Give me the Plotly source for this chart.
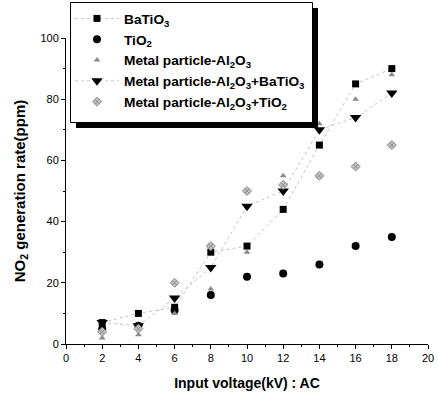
import plotly.graph_objects as go

voltage = [2, 4, 6, 8, 10, 12, 14, 16, 18]
batio3 = [7, 10, 12, 30, 32, 44, 65, 85, 90]
tio2 = [5, 6, 11, 16, 22, 23, 26, 32, 35]
metal_al2o3 = [2, 3, 10, 18, 30, 55, 72, 80, 88]
metal_al2o3_batio3 = [7, 6, 15, 25, 45, 50, 70, 74, 82]
metal_al2o3_tio2 = [4, 5, 20, 32, 50, 52, 55, 58, 65]

x_ticks = [0, 2, 4, 6, 8, 10, 12, 14, 16, 18, 20]
y_ticks = [0, 20, 40, 60, 80, 100]

W, H = 438, 400
L, R, T, B = 66, 10, 38, 56
pw, ph = W - L - R, H - T - B

def px2paper(px, py):
    return (px - L) / pw, (H - B - py) / ph

fig = go.Figure()
fig.add_trace(go.Scatter(x=voltage, y=batio3, name="BaTiO<sub>3</sub>", mode="lines+markers",
                         legendgroup="g1",
                         line=dict(color="#c4c4c4", width=1, dash="dot"),
                         marker=dict(symbol="square", size=7, color="black")))
fig.add_trace(go.Scatter(x=voltage, y=tio2, name="TiO<sub>2</sub>", mode="markers",
                         legendgroup="g2",
                         marker=dict(symbol="circle", size=8, color="black")))
fig.add_trace(go.Scatter(x=voltage, y=metal_al2o3, name="Metal particle-Al<sub>2</sub>O<sub>3</sub>", mode="markers",
                         legendgroup="g3",
                         marker=dict(symbol="triangle-up", size=6, color="#8a8a8a")))
fig.add_trace(go.Scatter(x=voltage, y=metal_al2o3_batio3,
                         name="Metal particle-Al<sub>2</sub>O<sub>3</sub>+BaTiO<sub>3</sub>", mode="lines+markers",
                         legendgroup="g4",
                         line=dict(color="#c4c4c4", width=1, dash="dot"),
                         marker=dict(symbol="triangle-down", size=10, color="black")))
fig.add_trace(go.Scatter(x=voltage, y=metal_al2o3_tio2,
                         name="Metal particle-Al<sub>2</sub>O<sub>3</sub>+TiO<sub>2</sub>", mode="markers",
                         legendgroup="g5",
                         marker=dict(symbol="diamond-x", size=7, color="#c0c0c0",
                                     line=dict(color="#909090", width=1))))

# legend shadow and box drawn as shapes (legend itself transparent, no border)
sx0, sy0 = px2paper(76, 128)
sx1, sy1 = px2paper(318, 8)
fig.add_shape(type="rect", xref="paper", yref="paper", x0=sx0, y0=sy0, x1=sx1, y1=sy1,
              fillcolor="black", line=dict(width=0), layer="above")
bx0, by0 = px2paper(70.5, 122.5)
bx1, by1 = px2paper(312.5, 2.5)
fig.add_shape(type="rect", xref="paper", yref="paper", x0=bx0, y0=by0, x1=bx1, y1=by1,
              fillcolor="white", line=dict(color="black", width=1), layer="above")

lx, ly = px2paper(70, 3)
fig.update_layout(
    width=W, height=H,
    margin=dict(l=L, r=R, t=T, b=B, autoexpand=False),
    paper_bgcolor="white", plot_bgcolor="white",
    font=dict(family="Liberation Sans, Arial, sans-serif", color="black"),
    showlegend=True,
    legend=dict(x=lx, y=ly, xanchor="left", yanchor="top",
                bgcolor="rgba(0,0,0,0)", borderwidth=0,
                font=dict(size=13.7, family="Liberation Sans, Arial, sans-serif", weight="bold"),
                traceorder="normal", tracegroupgap=1.2, itemwidth=44),
    xaxis=dict(range=[0, 20], tickvals=x_ticks, showgrid=False, zeroline=False,
               showline=True, linecolor="black", linewidth=1,
               ticks="outside", ticklen=4, tickcolor="black", tickfont=dict(size=11),
               minor=dict(dtick=1, ticks="outside", ticklen=2, tickcolor="black"),
               title=dict(text="Input voltage(kV) : AC", font=dict(size=14, weight="bold"), standoff=14)),
    yaxis=dict(range=[0, 100], tickvals=y_ticks, showgrid=False, zeroline=False,
               showline=True, linecolor="black", linewidth=1,
               ticks="outside", ticklen=4, tickcolor="black", tickfont=dict(size=11),
               minor=dict(dtick=10, ticks="outside", ticklen=2, tickcolor="black"),
               title=dict(text="NO<sub>2</sub> generation rate(ppm)", font=dict(size=15, weight="bold"), standoff=11)),
)
for tr in fig.data:
    tr.cliponaxis = False

fig.write_html("out.html", config={"displayModeBar": False},
               post_script="document.body.style.margin='0';")
